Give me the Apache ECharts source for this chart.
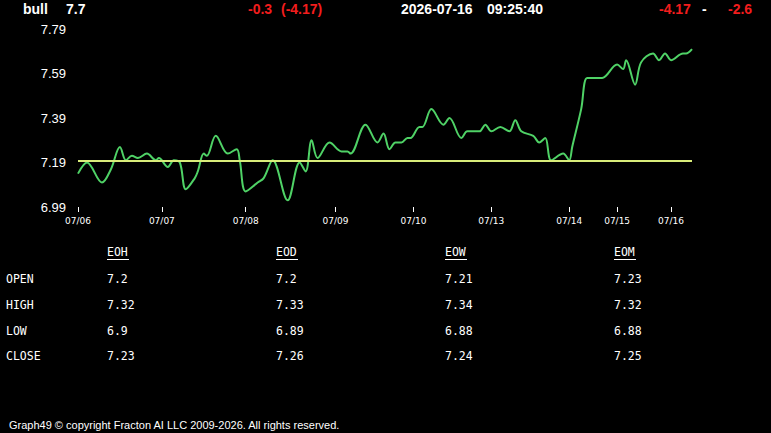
<!DOCTYPE html>
<html>
<head>
<meta charset="utf-8">
<script src="https://cdn.jsdelivr.net/npm/echarts@6/dist/echarts.min.js"></script>
<style>
html,body{margin:0;padding:0;background:#000;}
#c{width:771px;height:433px;}
</style>
</head>
<body>
<div id="c"></div>
<script>
// ---- data ----
const dayLabels = ['07/06','07/07','07/08','07/09','07/10','07/13','07/14','07/15','07/16'];
const dayStarts = [0, 28, 56, 86, 112, 138, 164, 180, 198];
const lastIndex = 205;
const yTicks = [6.99, 7.19, 7.39, 7.59, 7.79];
const timeIdx = [0,3,8,11,14,16,18,20,23,26,27,30,32,34,36,39,40,42,43,46,50,53,54,56,60,62,65,70,74,76,78,80,84,88,90,91,96,100,102,104,106,108,110,111,114,115,118,122,124,128,130,134,136,138,141,144,146,148,152,154,156,158,162,164,165,168,170,173,175,180,182,183,186,188,192,194,196,198,202,203,205];
const prices  = [7.14,7.19,7.10,7.16,7.26,7.20,7.22,7.21,7.23,7.20,7.21,7.17,7.20,7.19,7.07,7.12,7.15,7.23,7.22,7.31,7.23,7.25,7.20,7.06,7.10,7.12,7.20,7.02,7.19,7.15,7.29,7.21,7.28,7.24,7.24,7.23,7.36,7.28,7.32,7.25,7.28,7.28,7.30,7.30,7.35,7.35,7.43,7.36,7.39,7.30,7.33,7.33,7.36,7.33,7.35,7.33,7.38,7.33,7.31,7.28,7.30,7.20,7.23,7.20,7.26,7.43,7.57,7.57,7.57,7.63,7.61,7.65,7.54,7.64,7.68,7.65,7.68,7.65,7.68,7.68,7.70];
const baseline = 7.2;

const header = {symbol:'bull', last:'7.7', change:'-0.3', changePct:'(-4.17)', date:'2026-07-16', time:'09:25:40', r1:'-4.17', sep:'-', r2:'-2.6'};

const colHeaders = ['EOH','EOD','EOW','EOM'];
const rowLabels = ['OPEN','HIGH','LOW','CLOSE'];
const tableValues = [ // rows x columns
  ['7.2','7.2','7.21','7.23'],
  ['7.32','7.33','7.34','7.32'],
  ['6.9','6.89','6.88','6.88'],
  ['7.23','7.26','7.24','7.25']
];
const footerText = 'Graph49 \u00A9 copyright Fracton AI LLC 2009-2026. All rights reserved.';

// ---- build ----
const seriesData = timeIdx.map((t,i)=>[t, prices[i]]);
const RED = '#f21d1d';
const hdrFont = 'bold 14px "Liberation Sans", Arial, sans-serif';
const mono = '"DejaVu Sans Mono", "Liberation Mono", monospace';

const g = [];
function txt(x, y, s, fill, font){
  g.push({type:'text', x:x, y:y, style:{text:s, fill:fill, font:font, textVerticalAlign:'middle'}});
}
txt(23, 9, header.symbol, '#fff', hdrFont);
txt(66, 9, header.last, '#fff', hdrFont);
txt(248, 9, header.change, RED, hdrFont);
txt(281, 9, header.changePct, RED, hdrFont);
txt(401, 9, header.date, '#fff', hdrFont);
txt(487, 9, header.time, '#fff', hdrFont);
txt(659, 9, header.r1, RED, hdrFont);
txt(702, 9, header.sep, '#fff', hdrFont);
txt(728, 9, header.r2, RED, hdrFont);

const colX = [107, 276, 445, 614];
const rowY = [279, 305, 331, 356];
const tFont = '11.5px ' + mono;
colHeaders.forEach((h,j)=>{
  txt(colX[j], 252, h, '#fff', tFont);
  g.push({type:'line', shape:{x1:colX[j], y1:259.5, x2:colX[j]+22, y2:259.5}, style:{stroke:'#fff', lineWidth:1}});
});
rowLabels.forEach((r,i)=>{
  txt(6, rowY[i], r, '#fff', tFont);
  tableValues[i].forEach((v,j)=> txt(colX[j], rowY[i], v, '#fff', tFont));
});
txt(9, 425, footerText, '#fff', '11px "Liberation Sans", Arial, sans-serif');

const chart = echarts.init(document.getElementById('c'), null, {renderer:'svg'});
chart.setOption({
  backgroundColor:'#000',
  animation:false,
  grid:{left:78, right:79, top:29, bottom:226},
  xAxis:{
    type:'value', min:0, max:lastIndex,
    axisLine:{show:false},
    splitLine:{show:false},
    axisTick:{show:true, length:5, lineStyle:{color:'#fff', width:1}, customValues:dayStarts},
    axisLabel:{color:'#fff', fontSize:9, fontFamily:'"DejaVu Sans", Verdana, sans-serif', margin:9,
      customValues:dayStarts, formatter:(v)=>dayLabels[dayStarts.indexOf(v)] || ''}
  },
  yAxis:{
    type:'value', min:6.99, max:7.79,
    axisLine:{show:false}, axisTick:{show:false}, splitLine:{show:false},
    axisLabel:{color:'#fff', fontSize:13, fontFamily:'"Liberation Sans", Arial, sans-serif', margin:12,
      customValues:yTicks, formatter:(v)=>v.toFixed(2)}
  },
  series:[{
    type:'line', data:seriesData, smooth:0.35, symbol:'none',
    lineStyle:{color:'#4fd266', width:2},
    markLine:{silent:true, symbol:'none', label:{show:false},
      lineStyle:{color:'#d9ec7a', width:2, type:'solid'},
      data:[{yAxis:baseline}]}
  }],
  graphic:g
});
</script>
</body>
</html>
